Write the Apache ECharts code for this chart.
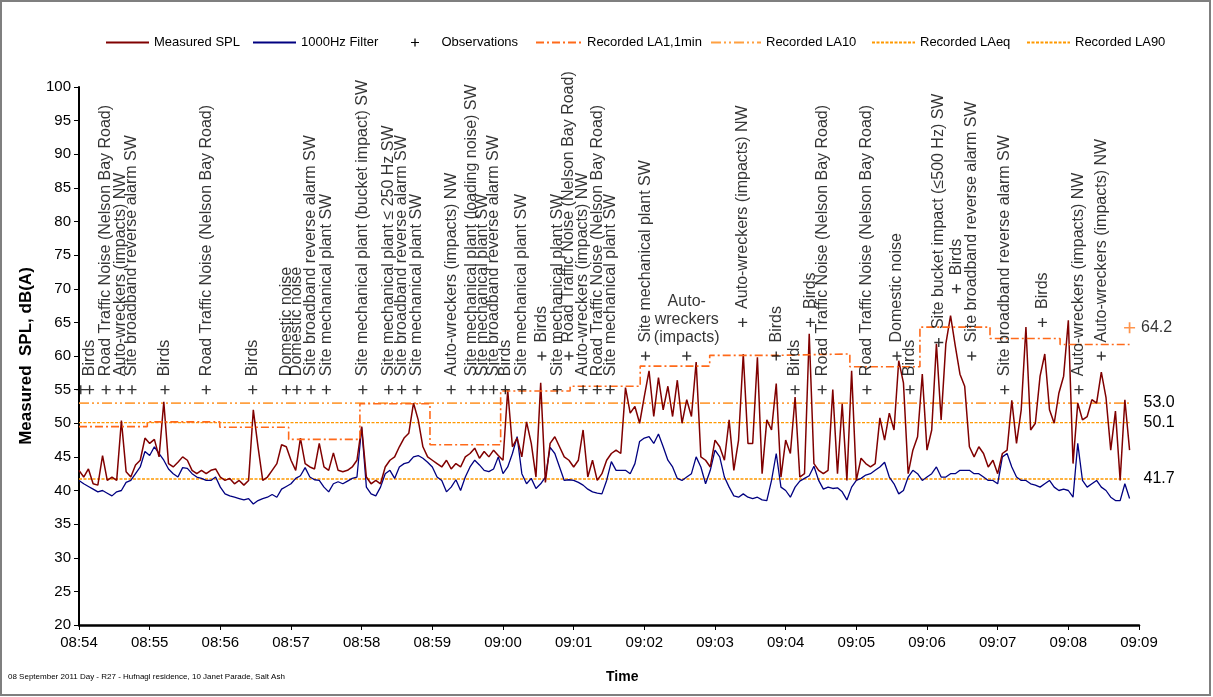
<!DOCTYPE html>
<html><head><meta charset="utf-8">
<script src="https://cdn.jsdelivr.net/npm/echarts@6/dist/echarts.min.js"></script>
<style>html,body{margin:0;padding:0;background:#fff}#c{width:1213px;height:697px}</style>
</head><body><div id="c"></div>
<script>
// ---------- DATA ----------
const tickLabels = ['08:54','08:55','08:56','08:57','08:58','08:59','09:00','09:01','09:02','09:03','09:04','09:05','09:06','09:07','09:08','09:09'];
const sampleStep = 4; // seconds between samples, starting 08:54:00
const splValues = [
43.0,42.0,43.2,41.0,40.8,45.2,41.5,42.0,41.5,50.4,
42.8,42.0,43.8,44.5,47.8,47.0,47.6,45.0,53.2,44.0,
43.5,44.2,45.0,44.5,43.0,42.5,43.0,42.5,43.0,43.2,
42.0,41.5,41.8,41.0,41.5,40.8,41.5,52.0,46.5,41.5,
42.0,43.0,44.0,46.8,46.5,44.5,43.0,47.8,44.0,43.5,
43.2,47.0,43.5,43.0,45.6,43.0,42.8,43.0,43.5,44.5,
49.5,42.0,41.0,41.5,41.0,43.5,44.5,45.0,46.5,47.8,
48.5,53.0,50.5,46.5,45.0,44.5,44.0,43.5,44.5,43.2,
44.0,43.5,45.0,45.5,46.3,44.8,45.8,45.0,46.0,45.2,
44.5,54.9,46.5,47.8,45.0,50.2,47.0,42.0,56.0,41.2,
47.0,48.0,46.5,45.0,44.5,43.5,44.5,49.0,42.0,44.5,
41.5,42.5,44.5,45.5,46.0,45.5,55.3,51.5,52.5,50.0,
54.0,57.8,51.0,56.8,52.0,55.5,51.0,56.4,50.0,53.5,
51.0,59.1,45.0,44.5,43.5,47.5,46.5,44.5,50.5,43.0,
47.5,60.3,47.0,47.0,59.8,42.5,50.5,49.0,55.9,42.0,
47.5,45.5,53.9,42.0,42.5,63.3,44.0,43.0,42.5,43.0,
55.0,42.5,52.9,41.5,57.8,41.5,44.8,44.0,43.5,44.0,
50.8,47.5,51.5,49.0,59.3,56.0,42.5,46.0,48.0,57.3,
46.0,49.0,61.8,50.5,61.8,66.0,61.5,57.3,55.5,46.5,
45.0,46.5,45.5,43.5,44.5,42.5,45.5,46.0,53.4,47.0,
52.0,64.3,49.0,50.0,57.0,60.3,52.0,50.0,54.5,57.0,
65.3,44.0,53.0,50.5,51.0,53.5,53.0,57.6,53.8,46.0,
51.8,41.5,53.5,46.0];
const filterValues = [
41.5,41.0,40.6,40.2,39.8,40.0,39.6,39.2,39.8,40.0,
41.2,41.5,42.5,43.5,45.8,45.2,46.5,45.5,44.5,43.2,
42.5,42.0,43.4,43.3,42.5,42.0,41.8,41.5,41.5,42.0,
40.5,39.5,39.2,39.0,38.8,38.6,38.8,38.0,38.5,38.8,
39.0,39.4,39.0,40.2,40.6,41.0,41.8,42.2,43.4,42.0,
41.6,41.5,40.5,39.8,41.0,41.3,41.0,41.4,41.8,42.0,
49.4,40.5,39.5,39.2,40.5,42.5,43.0,41.8,43.5,44.0,
44.2,45.0,45.2,44.8,44.2,43.5,42.0,41.5,39.8,40.5,
41.6,40.0,42.0,43.5,44.5,43.8,43.0,42.8,43.2,45.0,
42.5,43.5,45.5,48.0,42.5,41.0,41.8,40.3,41.0,42.0,
46.4,45.5,43.5,41.5,41.6,41.5,41.2,40.8,40.2,39.8,
39.6,39.5,41.5,44.3,43.0,43.0,43.0,42.5,44.0,47.3,
47.8,48.0,47.0,48.4,46.5,44.5,43.5,41.8,41.5,42.0,
42.5,45.0,43.5,41.0,43.0,46.0,45.0,42.0,40.5,39.2,
39.0,39.5,39.0,38.8,39.0,38.6,38.5,41.5,45.5,40.5,
40.0,39.0,40.5,41.4,41.8,42.2,43.6,41.5,40.2,40.5,
40.3,40.4,39.8,38.6,40.5,41.5,41.8,42.3,42.5,43.0,
43.5,44.2,42.0,41.0,39.5,40.0,42.0,43.0,42.5,41.5,
42.0,42.5,43.5,42.0,42.0,42.5,42.5,43.0,43.0,43.0,
42.5,42.5,42.0,41.5,41.5,41.0,45.0,45.5,43.5,42.0,
41.5,41.5,41.0,40.8,40.5,41.0,41.5,40.5,40.0,40.2,
40.0,39.0,47.0,41.5,40.5,41.0,41.5,40.5,40.0,39.0,
38.5,38.5,41.0,38.8];
// observations: time (s after 08:54), level (dB), text
const obsTimes  = [1.5,9,23,35,45,73,108,147.5,176,185,197,210,241,263,274,287,316,333,343,352,362,376,393,406,416,428,440,451,481,516,563.5,592,608,621,631,669,694.5,705.6,730,745,758,786,818,849,868];
const obsLevels = [55,55,55,55,55,55,55,55,55,55,55,55,55,55,55,55,55,55,55,55,55,55,60,55,60,55,55,55,60,60,65,60,55,65,55,55,60,55,62,70,60,55,65,55,60];
const obsLabels = ['','Birds','Road Traffic Noise (Nelson Bay Road)','Auto-wreckers (impacts) NW','Site broadband reverse alarm SW','Birds','Road Traffic Noise (Nelson Bay Road)','Birds','Domestic noise','Domestic noise','Site broadband reverse alarm SW','Site mechanical plant SW',
'Site mechanical plant (bucket impact) SW','Site mechanical plant \u2264 250 Hz SW','Site broadband reverse alarm SW','Site mechanical plant SW','Auto-wreckers (impacts) NW','Site mechanical plant (loading noise) SW','Site mechanical plant SW','Site broadband reverse alarm SW','Birds','Site mechanical plant SW','Birds','Site mechanical plant SW','Road Traffic Noise (Nelson Bay Road)','Auto-wreckers (impacts) NW','Road Traffic Noise (Nelson Bay Road)','Site mechanical plant SW',
'Site mechanical plant SW','Auto-\nwreckers\n(impacts)','Auto-wreckers (impacts) NW','Birds','Birds','Birds','Road Traffic Noise (Nelson Bay Road)','Road Traffic Noise (Nelson Bay Road)','Domestic noise','Birds','Site bucket impact (\u2264500 Hz) SW','Birds','Site broadband reverse alarm SW','Site broadband reverse alarm SW','Birds','Auto-wreckers (impacts) NW','Auto-wreckers (impacts) NW'];
const horizontalLabels = ['Auto-\nwreckers\n(impacts)'];
// recorded LA1,1min : interval boundaries (s) and values
const la1Times  = [0,58,119.5,178,238.5,298,358,417,476.5,535.5,592,654.5,714,773.5,833,892];
const la1Values = [49.5,50.2,49.4,47.6,52.9,46.8,54.8,55.5,58.5,60.1,60.3,58.4,64.3,62.6,61.7];
const la1Max = 64.2;
const la10 = 53.0, laeq = 50.1, la90 = 41.7;
const dataEnd = 892;

// ---------- CHART ----------
const FONT = "'Liberation Sans', Arial, sans-serif";
const plusPath = 'path://M3.8,0h1.4v3.8h3.8v1.4h-3.8v3.8h-1.4v-3.8h-3.8v-1.4h3.8z';
const chart = echarts.init(document.getElementById('c'), null, {renderer:'canvas'});

const spl = splValues.map((v,i)=>[i*sampleStep, v]);
const flt = filterValues.map((v,i)=>[i*sampleStep, v]);
const la1 = la1Values.map((v,i)=>[la1Times[i], v]).concat([[la1Times[la1Times.length-1], la1Values[la1Values.length-1]]]);
const flat = v => [[0,v],[dataEnd,v]];

const obsData = obsTimes.map((t,i)=>{
  const d = {value:[t, obsLevels[i]]};
  if (horizontalLabels.includes(obsLabels[i])) {
    d.label = {rotate:0, align:'center', verticalAlign:'bottom', distance:5, lineHeight:18};
  }
  return d;
});

const legendBase = {top:36, padding:0, itemHeight:10, itemGap:0, itemStyle:{opacity:0},
  textStyle:{fontSize:13, color:'#000', fontFamily:FONT}, selectedMode:false};

chart.setOption({
  animation:false,
  backgroundColor:'#fff',
  textStyle:{fontFamily:FONT},
  grid:{left:79, right:74, top:87, bottom:72, containLabel:false},
  legend:[
    Object.assign({}, legendBase, {left:105, itemWidth:43, data:['Measured SPL']}),
    Object.assign({}, legendBase, {left:252, itemWidth:43, data:['1000Hz Filter']}),
    Object.assign({}, legendBase, {left:411, itemWidth:43, itemHeight:8, itemStyle:{opacity:1}, data:['Observations']}),
    Object.assign({}, legendBase, {left:535, itemWidth:46, data:['Recorded LA1,1min']}),
    Object.assign({}, legendBase, {left:710, itemWidth:50, data:['Recorded LA10']}),
    Object.assign({}, legendBase, {left:871, itemWidth:43, data:['Recorded LAeq']}),
    Object.assign({}, legendBase, {left:1026, itemWidth:43, data:['Recorded LA90']})
  ],
  xAxis:{
    type:'value', min:0, max:900, interval:60,
    axisLine:{show:true, lineStyle:{color:'#000', width:2.5}},
    axisTick:{show:true, length:5, lineStyle:{color:'#000', width:1}},
    splitLine:{show:false},
    axisLabel:{fontSize:15, color:'#000', margin:10, formatter:(v)=>tickLabels[Math.round(v/60)] || ''}
  },
  yAxis:{
    type:'value', min:20, max:100, interval:5,
    name:'Measured  SPL, dB(A)', nameLocation:'middle', nameGap:44, nameRotate:90,
    nameTextStyle:{fontSize:17, fontWeight:'bold', color:'#000', fontFamily:FONT},
    axisLine:{show:true, lineStyle:{color:'#000', width:2}},
    axisTick:{show:true, length:5, lineStyle:{color:'#000', width:1}},
    splitLine:{show:false},
    axisLabel:{fontSize:15, color:'#000', margin:8}
  },
  series:[
    {type:'line', name:'Recorded LA10', data:flat(la10), symbol:'none', color:'#FFA040',
     lineStyle:{color:'#FFA040', width:1.6, type:[10,3,2,3,2,3]}, z:2,
     endLabel:{show:true, formatter:la10.toFixed(1), distance:14, fontSize:16, color:'#000'}},
    {type:'line', name:'Recorded LAeq', data:flat(laeq), symbol:'none', color:'#FF9900',
     lineStyle:{color:'#FF9900', width:1.4, type:[3,1.5]}, z:2,
     endLabel:{show:true, formatter:laeq.toFixed(1), distance:14, fontSize:16, color:'#000'}},
    {type:'line', name:'Recorded LA90', data:flat(la90), symbol:'none', color:'#FF9900',
     lineStyle:{color:'#FF9900', width:1.4, type:[3,1.5]}, z:2,
     endLabel:{show:true, formatter:la90.toFixed(1), distance:14, fontSize:16, color:'#000'}},
    {type:'line', name:'1000Hz Filter', data:flt, symbol:'none', color:'#000080',
     lineStyle:{color:'#000080', width:1.3}, z:3},
    {type:'line', name:'Measured SPL', data:spl, symbol:'none', color:'#800000',
     lineStyle:{color:'#800000', width:1.5}, z:4},
    {type:'line', name:'Recorded LA1,1min', data:la1, step:'end', symbol:'none', color:'#FF6A1A',
     lineStyle:{color:'#FF6A1A', width:1.6, type:[8,3,2,3]}, z:5},
    {type:'scatter', name:'LA1 max', data:[[dataEnd, la1Max]], symbol:plusPath, symbolSize:11,
     itemStyle:{color:'#FF7A20'}, z:6,
     label:{show:true, position:'right', distance:6, formatter:la1Max.toFixed(1), fontSize:16, color:'#000'}},
    {type:'scatter', name:'Observations', data:obsData, symbol:plusPath, symbolSize:9,
     itemStyle:{color:'#000'}, z:7,
     label:{show:true, position:'top', distance:9, rotate:90, align:'left', verticalAlign:'middle',
            fontSize:16, color:'#000', fontFamily:FONT, formatter:(p)=>obsLabels[p.dataIndex]}}
  ],
  graphic:[
    {type:'rect', shape:{x:1, y:1, width:1209, height:694}, style:{fill:'none', stroke:'#7f7f7f', lineWidth:2}, silent:true},
    {type:'text', left:8, top:673, style:{text:'08 September 2011 Day - R27 - Hufnagl residence, 10 Janet Parade, Salt Ash', fontSize:8, fontFamily:"'Liberation Sans Narrow', 'Arial Narrow', sans-serif", fill:'#000'}},
    {type:'text', left:606, top:670, style:{text:'Time', fontSize:14, fontWeight:'bold', fontFamily:FONT, fill:'#000'}}
  ]
});
</script></body></html>
